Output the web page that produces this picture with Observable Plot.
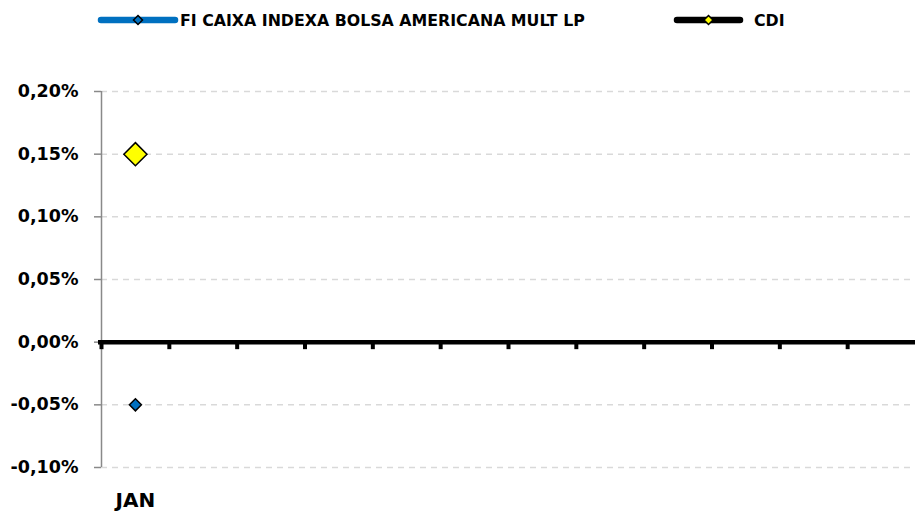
<!DOCTYPE html>
<html>
<head>
<meta charset="utf-8">
<script src="https://cdn.jsdelivr.net/npm/d3@7"></script>
<script src="https://cdn.jsdelivr.net/npm/@observablehq/plot@0.6"></script>
<style>
  body { margin: 0; background: #fff; }
  #wrap { position: relative; width: 915px; height: 511px; font-family: "DejaVu Sans", sans-serif; }
  #legend { position: absolute; left: 0; top: 0; }
  #chart { position: absolute; left: 0; top: 0; }
</style>
</head>
<body>
<div id="wrap">
  <div id="chart"></div>
  <svg id="legend" width="915" height="40"></svg>
</div>
<script>
// ---- data ----
const months = ["JAN","FEV","MAR","ABR","MAI","JUN","JUL","AGO","SET","OUT","NOV","DEZ"];
const monthLabels = ["JAN","","","","","","","","","","",""];
const seriesNames = ["FI CAIXA INDEXA BOLSA AMERICANA MULT LP", "CDI"];
const fundValues = [-0.05];   // % per month
const cdiValues = [0.15];     // % per month
const yTicks = [-0.10, -0.05, 0.00, 0.05, 0.10, 0.15, 0.20];

const rows = fundValues.map((v, i) => ({month: months[i], fund: v, cdi: cdiValues[i]}));
const fmt = d => d.toFixed(2).replace(".", ",") + "%";

const W = 915, H = 511, mL = 101, mR = 0, mT = 91, mB = 44;
const bw = (W - mL - mR) / months.length;
const FONT = "DejaVu Sans, sans-serif";

const chart = Plot.plot({
  width: W, height: H,
  marginTop: mT, marginBottom: mB, marginLeft: mL, marginRight: mR,
  style: {fontFamily: FONT, background: "transparent", color: "#000"},
  x: {type: "band", domain: months, padding: 0, round: false, axis: null, label: null},
  y: {domain: [yTicks[0], yTicks[yTicks.length - 1]], axis: null, label: null},
  marks: [
    Plot.gridY(yTicks.filter(d => d !== 0), {stroke: "#d9d9d9", strokeOpacity: 1, strokeWidth: 1.5, strokeDasharray: "6,5"}),
    Plot.ruleX([months[0]], {y1: yTicks[0], y2: yTicks[yTicks.length - 1], dx: -bw / 2, stroke: "#898989", strokeWidth: 1.5}),
    Plot.axisY(yTicks, {tickFormat: fmt, tickSize: 7, tickPadding: 16, stroke: "#898989", strokeWidth: 1.5, fontSize: 17.5, fontWeight: "bold", fill: "#000", label: null}),
    Plot.ruleY([0], {stroke: "#000", strokeWidth: 4.5, insetLeft: -3}),
    Plot.ruleX(months, {x: d => d, y1: 0, y2: 0, insetBottom: -7.5, dx: -bw / 2, stroke: "#000", strokeWidth: 4}),
    Plot.axisX(months, {tickFormat: (d) => monthLabels[months.indexOf(d)], tickSize: 0, tickPadding: 25, fontSize: 20, fontWeight: "bold", fill: "#000", label: null}),
    Plot.dot(rows, {x: "month", y: "cdi", symbol: "diamond2", r: 10.4, fill: "#FFFF00", stroke: "#000", strokeWidth: 1.5}),
    Plot.dot(rows, {x: "month", y: "fund", symbol: "diamond2", r: 5.4, fill: "#0070C0", stroke: "#000", strokeWidth: 1.5})
  ]
});
document.getElementById("chart").appendChild(chart);

// ---- legend ----
const legendItems = [
  {name: seriesNames[0], line: "#0070C0", marker: "#0070C0", x0: 101, x1: 175, tx: 180},
  {name: seriesNames[1], line: "#000000", marker: "#FFFF00", x0: 677, x1: 740, tx: 754}
];
const lg = d3.select("#legend");
const ly = 20;
legendItems.forEach(it => {
  lg.append("line").attr("x1", it.x0).attr("x2", it.x1).attr("y1", ly).attr("y2", ly)
    .attr("stroke", it.line).attr("stroke-width", 6.5).attr("stroke-linecap", "round");
  const cx = (it.x0 + it.x1) / 2, s = 4.5;
  lg.append("path").attr("d", `M${cx},${ly - s}L${cx + s},${ly}L${cx},${ly + s}L${cx - s},${ly}Z`)
    .attr("fill", it.marker).attr("stroke", "#000").attr("stroke-width", 1.5);
  lg.append("text").attr("x", it.tx).attr("y", 25.8).text(it.name)
    .attr("font-family", FONT).attr("font-weight", "bold").attr("font-size", 15.8).attr("fill", "#000");
});
</script>
</body>
</html>
